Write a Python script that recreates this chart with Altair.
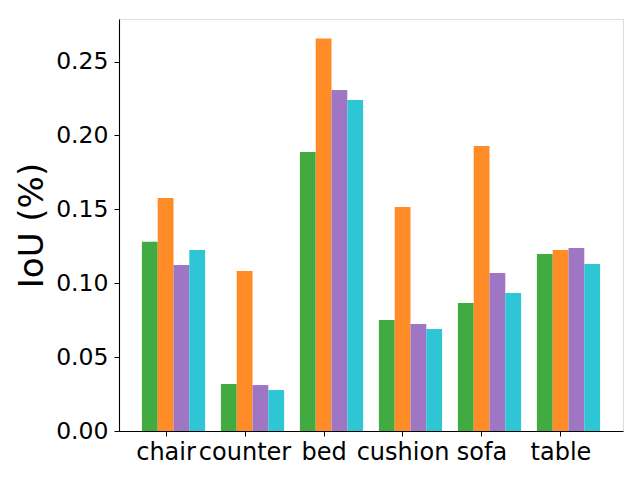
import altair as alt
import pandas as pd

categories = ["chair", "counter", "bed", "cushion", "sofa", "table"]
series_names = ["A", "B", "C", "D"]
series_colors = ["#41aa41", "#ff8c26", "#9f76c4", "#2ec5d4"]
vals_a = [0.128, 0.0318, 0.1888, 0.0751, 0.0866, 0.1198]
vals_b = [0.1576, 0.1083, 0.2656, 0.1516, 0.1928, 0.1225]
vals_c = [0.1123, 0.0311, 0.2307, 0.0724, 0.1069, 0.1238]
vals_d = [0.1225, 0.0277, 0.2240, 0.0690, 0.0934, 0.1130]

rows = []
for s, vals in zip(series_names, [vals_a, vals_b, vals_c, vals_d]):
    for c, v in zip(categories, vals):
        rows.append({"category": c, "series": s, "value": v})
df = pd.DataFrame(rows)

FONT = "DejaVu Sans"

chart = alt.Chart(df).mark_bar(opacity=1).encode(
    x=alt.X("category:N", sort=categories,
            scale=alt.Scale(paddingInner=0.2, paddingOuter=0.29),
            axis=alt.Axis(title=None, labelAngle=0, labelFont=FONT, labelFontSize=24,
                          labelColor="black", tickColor="black", domainColor="black",
                          tickSize=5, labelPadding=4, grid=False, domainWidth=1.1,
                          tickOffset=-8)),
    xOffset=alt.XOffset("series:N", sort=series_names,
                        scale=alt.Scale(paddingInner=0, paddingOuter=0)),
    y=alt.Y("value:Q", scale=alt.Scale(domain=[0, 0.2788], nice=False, zero=True),
            axis=alt.Axis(title="IoU (%)", values=[0, 0.05, 0.10, 0.15, 0.20, 0.25],
                          format=".2f", labelFont=FONT, labelFontSize=23.5, labelColor="black",
                          tickColor="black", domainColor="black", tickSize=5, labelPadding=6,
                          grid=False, domainWidth=1.1, titleFont=FONT, titleFontSize=34,
                          titleFontWeight="normal", titleColor="black",
                          titleBaseline="alphabetic", titleX=-77)),
    color=alt.Color("series:N", sort=series_names,
                    scale=alt.Scale(domain=series_names, range=series_colors), legend=None),
).properties(
    width=504, height=412,
    autosize=alt.AutoSizeParams(type="none"),
    padding={"left": 111, "top": 11, "right": 9, "bottom": 41},
).configure_view(
    stroke="black", strokeWidth=1.1
).configure(background="white")

chart.save("out.html", embed_options={"renderer": "svg", "actions": False})
